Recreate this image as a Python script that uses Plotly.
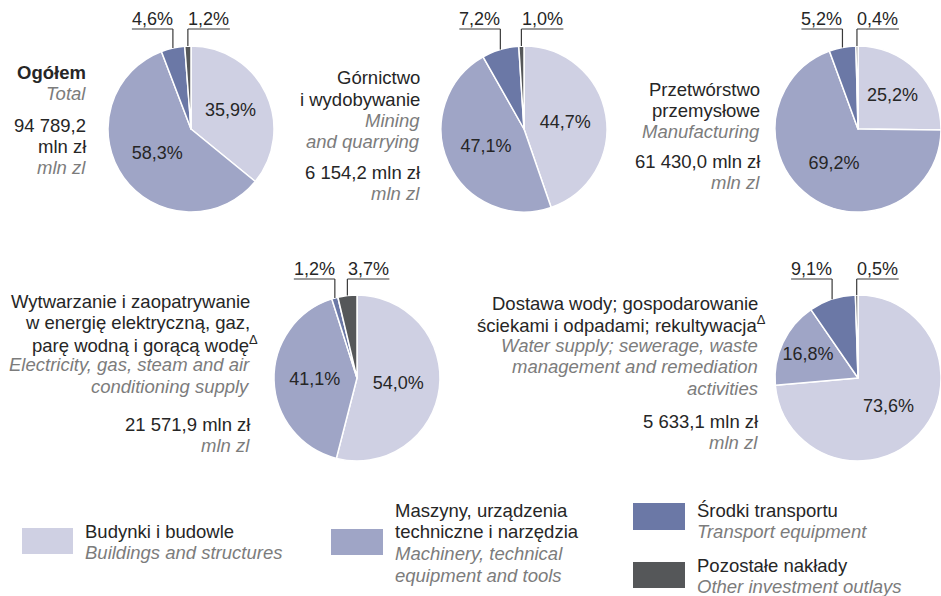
import math

import plotly.graph_objects as go

# --- data -----------------------------------------------------------------
categories = ["Budynki i budowle", "Maszyny, urządzenia techniczne i narzędzia", "Środki transportu", "Pozostałe nakłady"]
categories_en = ["Buildings and structures", "Machinery, technical equipment and tools", "Transport equipment", "Other investment outlays"]
colors = ["#cfd0e3", "#9fa5c6", "#6b78a6", "#555759"]

ogolem = [35.9, 58.3, 4.6, 1.2]
gornictwo = [44.7, 47.1, 7.2, 1.0]
przetworstwo = [25.2, 69.2, 5.2, 0.4]
energia = [54.0, 41.1, 1.2, 3.7]
woda = [73.6, 16.8, 9.1, 0.5]
totals = [94789.2, 6154.2, 61430.0, 21571.9, 5633.1]

names_pl = [
    ["<b>Ogółem</b>"],
    ["Górnictwo", "i wydobywanie"],
    ["Przetwórstwo", "przemysłowe"],
    ["Wytwarzanie i zaopatrywanie", "w energię elektryczną, gaz,", "parę wodną i gorącą wodę<sup>Δ</sup>"],
    ["Dostawa wody; gospodarowanie", "ściekami i odpadami; rekultywacja<sup>Δ</sup>"],
]
names_en = [
    ["Total"],
    ["Mining", "and quarrying"],
    ["Manufacturing"],
    ["Electricity, gas, steam and air", "conditioning supply"],
    ["Water supply; sewerage, waste", "management and remediation", "activities"],
]

# --- layout (pixels) --------------------------------------------------------
W, H = 941, 596
R = 83
FONT = "Liberation Sans, Arial, sans-serif"
DARK = "#262626"
GREY = "#7c7c7c"
STEP = 21.3
TXT = 18.5

panels = [
    dict(vals=ogolem, cx=191, cy=129, lead_y=29, text_x=88, name_y=72, amount_y=125),
    dict(vals=gornictwo, cx=524, cy=129, lead_y=29, text_x=422, name_y=78, amount_y=172),
    dict(vals=przetworstwo, cx=858, cy=129, lead_y=29, text_x=762, name_y=89, amount_y=161),
    dict(vals=energia, cx=357, cy=378, lead_y=279, text_x=252, name_y=301, amount_y=424),
    dict(vals=woda, cx=858, cy=378, lead_y=279, text_x=760, name_y=303, amount_y=421),
]


def px(x):
    return x / W


def py(y):
    return 1 - y / H


def pct(v):
    return f"{v:.1f}".replace(".", ",") + "%"


def money(v):
    return f"{v:,.1f}".replace(",", " ").replace(".", ",")


fig = go.Figure()
annotations = []
shapes = []


def add_text(text, x, y, anchor="right", color=DARK, italic=False, size=TXT):
    if italic:
        text = f"<i>{text}</i>"
    annotations.append(
        dict(
            x=px(x), y=py(y), xref="paper", yref="paper", text=text, showarrow=False,
            xanchor=anchor, yanchor="middle", font=dict(family=FONT, size=size, color=color),
        )
    )


for i, p in enumerate(panels):
    cx, cy = p["cx"], p["cy"]
    fig.add_trace(
        go.Pie(
            values=p["vals"],
            labels=categories,
            sort=False,
            direction="clockwise",
            rotation=0,
            text=[pct(v) for v in p["vals"]],
            textinfo="text",
            textposition=["inside", "inside", "none", "none"],
            insidetextorientation="horizontal",
            insidetextfont=dict(family=FONT, size=18, color=DARK),
            marker=dict(colors=colors, line=dict(color="white", width=1.5)),
            domain=dict(x=[px(cx - R), min(1.0, px(cx + R))], y=[py(cy + R), py(cy - R)]),
            hoverinfo="skip",
            showlegend=False,
        )
    )

    # leader labels for the two small slices
    start = sum(p["vals"][:2])
    for k in (2, 3):
        v = p["vals"][k]
        ang = (start + v / 2) / 100 * 2 * math.pi
        start += v
        ex = cx + R * math.sin(ang)
        ey = cy - R * math.cos(ang)
        ly = p["lead_y"]
        x0, x1 = (ex - 41, ex) if k == 2 else (ex, ex + 42)
        shapes.append(dict(type="line", xref="paper", yref="paper", x0=px(x0), x1=px(x1), y0=py(ly), y1=py(ly),
                           line=dict(color="#3a3a3a", width=1.2)))
        shapes.append(dict(type="line", xref="paper", yref="paper", x0=px(ex), x1=px(ex), y0=py(ly), y1=py(ey),
                           line=dict(color="#3a3a3a", width=1.2)))
        add_text(pct(v), (x0 + x1) / 2, ly - 10, anchor="center", size=18)

    # panel description
    y = p["name_y"]
    for line in names_pl[i]:
        add_text(line, p["text_x"] + (8 if "<sup>" in line else 0), y)
        y += STEP
    for line in names_en[i]:
        add_text(line, p["text_x"], y, color=GREY, italic=True)
        y += STEP
    y = p["amount_y"]
    amount = [money(totals[i]), "mln zł"] if i == 0 else [f"{money(totals[i])} mln zł"]
    for line in amount:
        add_text(line, p["text_x"], y)
        y += STEP
    add_text("mln zl", p["text_x"], y, color=GREY, italic=True)

# --- legend -----------------------------------------------------------------
legend_items = [
    dict(box=(22, 528, 73, 554), tx=83, ty=531, pl=["Budynki i budowle"], en=["Buildings and structures"]),
    dict(box=(331, 529, 383, 555), tx=393, ty=510, pl=["Maszyny, urządzenia", "techniczne i narzędzia"],
         en=["Machinery, technical", "equipment and tools"]),
    dict(box=(633, 503, 685, 530), tx=695, ty=510, pl=["Środki transportu"], en=["Transport equipment"]),
    dict(box=(633, 562, 685, 588), tx=695, ty=565, pl=["Pozostałe nakłady"], en=["Other investment outlays"]),
]
for color, item in zip(colors, legend_items):
    x0, y0, x1, y1 = item["box"]
    shapes.append(dict(type="rect", xref="paper", yref="paper", x0=px(x0), x1=px(x1), y0=py(y1), y1=py(y0),
                       fillcolor=color, line=dict(width=0)))
    y = item["ty"]
    for line in item["pl"]:
        add_text(line, item["tx"], y, anchor="left")
        y += 21.7
    for line in item["en"]:
        add_text(line, item["tx"], y, anchor="left", color=GREY, italic=True)
        y += 21.7

fig.update_layout(
    width=W,
    height=H,
    margin=dict(l=0, r=0, t=0, b=0),
    paper_bgcolor="white",
    plot_bgcolor="white",
    annotations=annotations,
    shapes=shapes,
    font=dict(family=FONT, color=DARK),
)
fig.write_html(
    "out.html",
    config={"displayModeBar": False},
    post_script="document.body.style.margin = '0';",
)
